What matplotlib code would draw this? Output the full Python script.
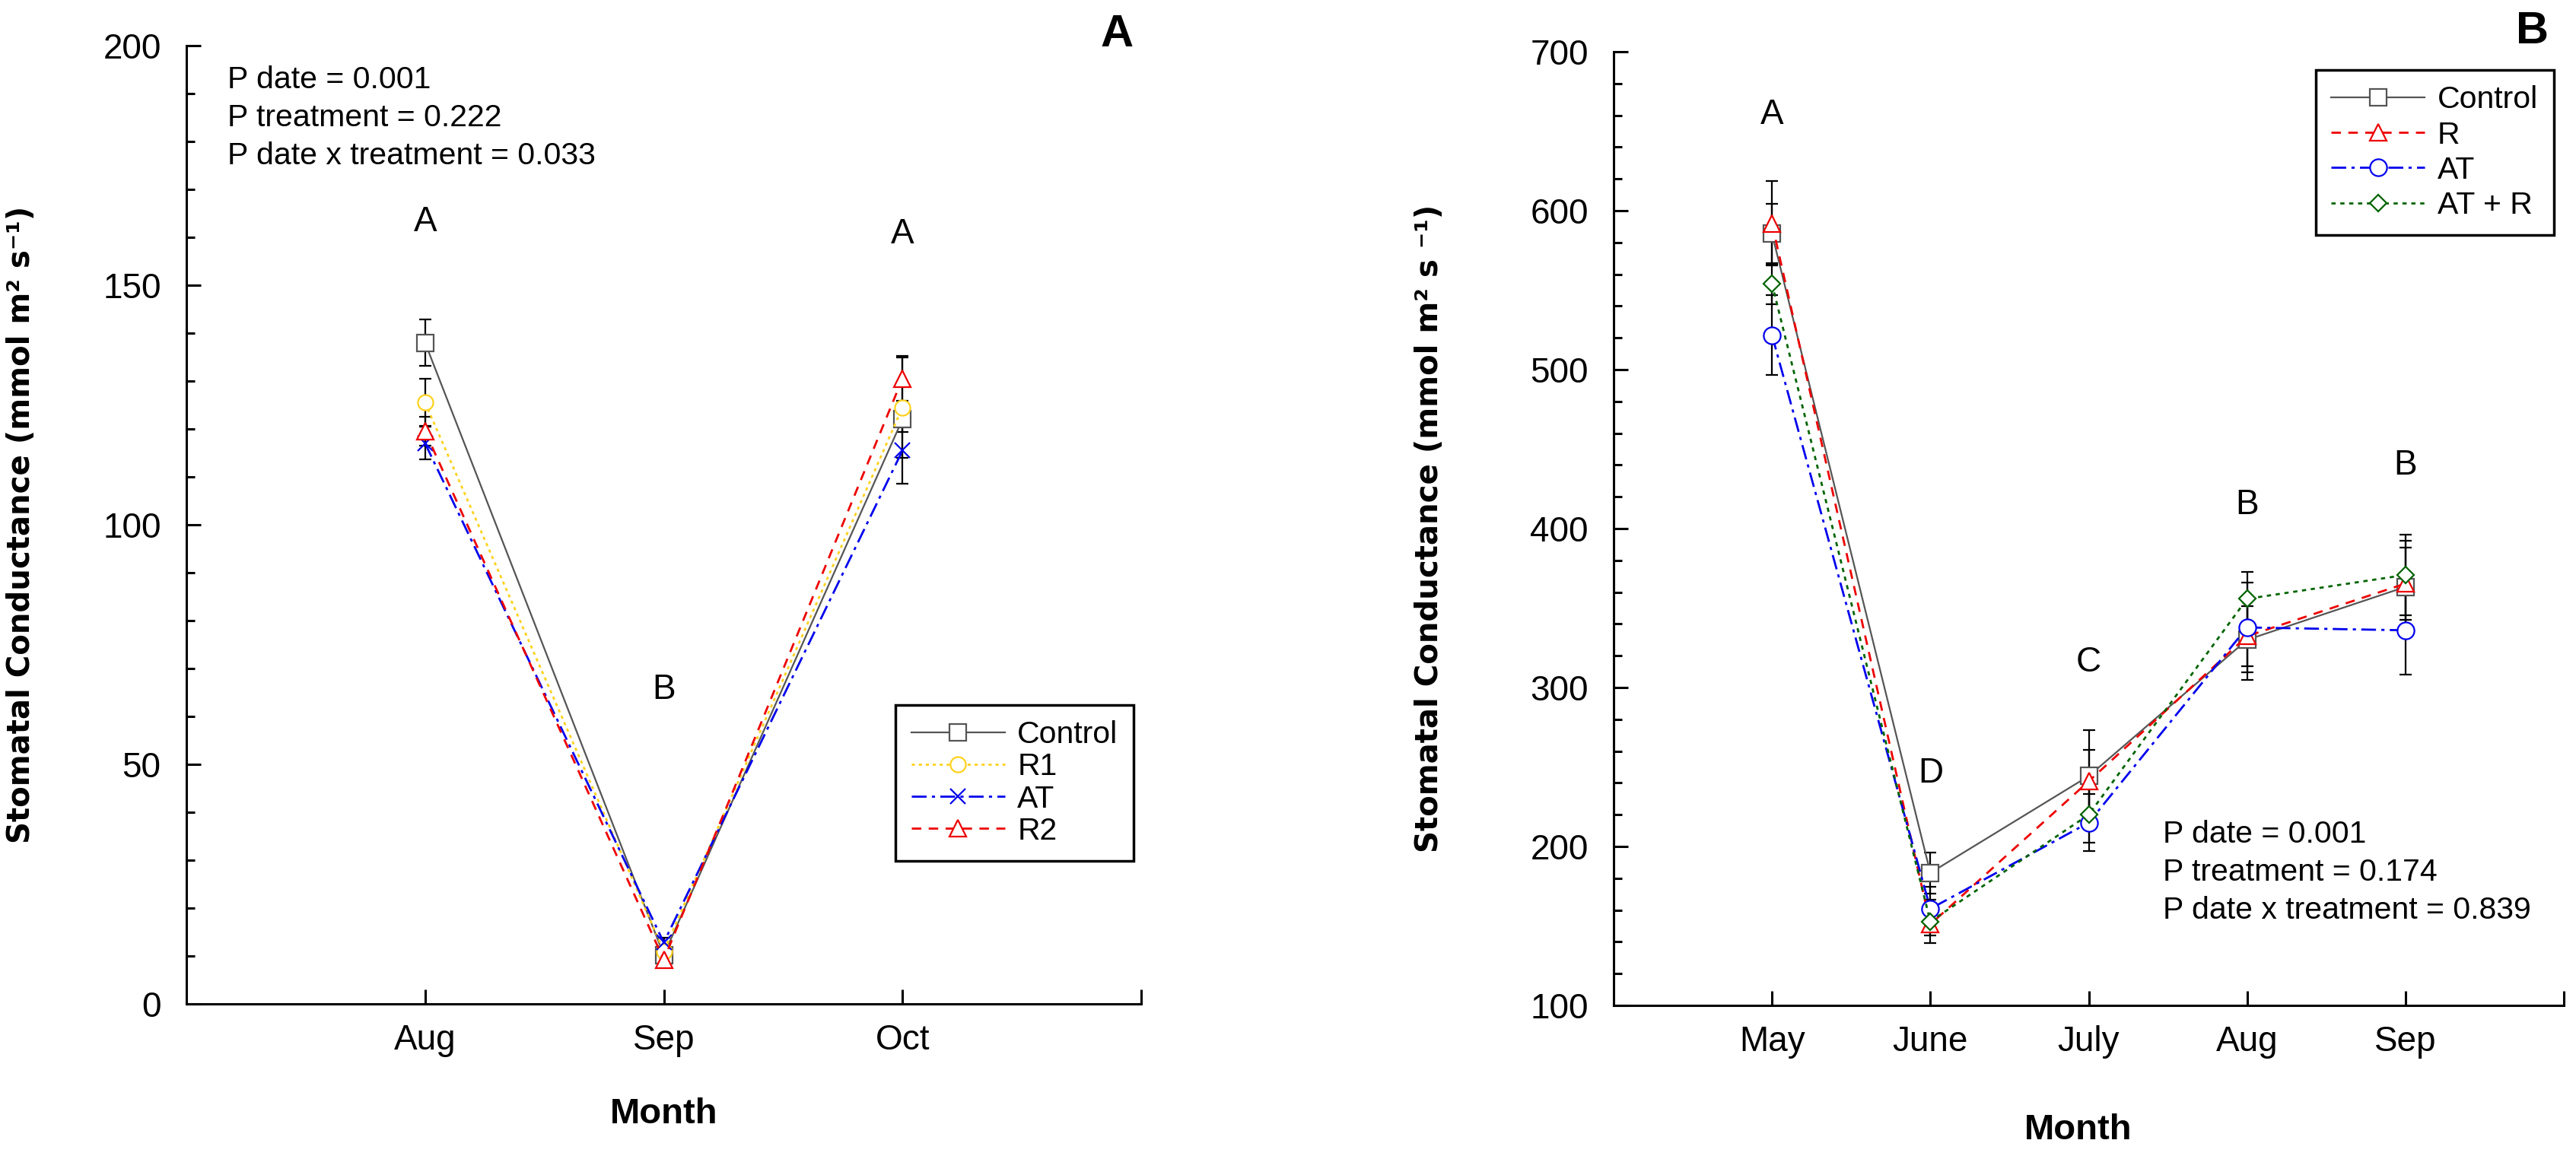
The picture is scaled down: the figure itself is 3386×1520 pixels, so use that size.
import matplotlib
matplotlib.use("Agg")
import matplotlib.pyplot as plt
from matplotlib.ticker import MultipleLocator

plt.rcParams['font.family'] = ['Liberation Sans', 'DejaVu Sans']

# ---- panel A data (Aug-Oct) ----
months_a = ["Aug", "Sep", "Oct"]
ctrl_a = [138.0, 10.2, 122.0]
ctrl_a_err = [4.8, 1.0, 2.6]
r1_a = [125.5, 11.0, 124.5]
r1_a_err = [4.9, 1.0, 10.5]
at_a = [117.0, 12.8, 115.5]
at_a_err = [3.4, 1.0, 7.0]
r2_a = [119.5, 9.2, 130.5]
r2_a_err = [3.0, 1.0, 4.7]
sig_a = ["A", "B", "A"]
sig_a_y = [161.2, 63.7, 158.7]
p_text_a = ["P date = 0.001", "P treatment = 0.222", "P date x treatment = 0.033"]

# ---- panel B data (May-Sep) ----
months_b = ["May", "June", "July", "Aug", "Sep"]
ctrl_b = [585.5, 183.4, 244.3, 330.0, 363.3]
ctrl_b_err = [19.0, 13.0, 29.0, 25.0, 29.0]
r_b = [592.0, 151.0, 241.0, 332.3, 365.4]
r_b_err = [26.5, 7.0, 20.0, 19.0, 22.6]
at_b = [521.7, 160.8, 215.0, 337.8, 336.0]
at_b_err = [25.0, 14.0, 18.0, 28.0, 28.0]
atr_b = [554.0, 152.8, 220.0, 355.8, 370.8]
atr_b_err = [13.0, 13.6, 17.6, 16.7, 25.5]
sig_b = ["A", "D", "C", "B", "B"]
sig_b_y = [654.5, 240.0, 310.0, 409.0, 434.0]
p_text_b = ["P date = 0.001", "P treatment = 0.174", "P date x treatment = 0.839"]

GRAY = "#555555"
YELLOW = "#FFD21E"
BLUE = "#0000EE"
RED = "#EE0000"
GREEN = "#006400"

TICK_FS = 33
TEXT_FS = 29.5


def draw_series(ax, x, y, err, color, ls, marker, ms, label, lw=2.0):
    ax.errorbar(x, y, yerr=err, fmt='none', ecolor='black', elinewidth=1.6,
                capsize=6, capthick=1.6, zorder=3)
    ax.plot(x, y, color=color, linestyle=ls, lw=lw, marker=marker, ms=ms,
            mfc='white', mec=color, mew=1.6, label=label, zorder=4)


def style_axes(ax, n, ymin, ymax, major, minor, labels):
    for side in ["top", "right"]:
        ax.spines[side].set_visible(False)
    for side in ["left", "bottom"]:
        ax.spines[side].set_linewidth(2.2)
    ax.set_xlim(0, n + 1)
    ax.set_ylim(ymin, ymax)
    ax.set_xticks(list(range(1, n + 2)))
    ax.set_xticklabels(labels + [""])
    ax.yaxis.set_major_locator(MultipleLocator(major))
    ax.yaxis.set_minor_locator(MultipleLocator(minor))
    ax.tick_params(axis='both', which='major', direction='in', length=14,
                   width=2.2, labelsize=TICK_FS)
    ax.tick_params(axis='y', which='minor', direction='in', length=8, width=2.2)
    ax.tick_params(axis='y', which='major', pad=24)
    ax.tick_params(axis='x', which='major', pad=19)


fig = plt.figure(figsize=(33.86, 15.2), dpi=100)
ax = fig.add_axes([245 / 3386, 200 / 1520, 1255 / 3386, 1260 / 1520])
ax2 = fig.add_axes([2121 / 3386, 198 / 1520, 1249 / 3386, 1254 / 1520])

# ---- panel A ----
xa = list(range(1, len(months_a) + 1))
draw_series(ax, xa, ctrl_a, ctrl_a_err, GRAY, '-', 's', 16, "Control", lw=1.6)
draw_series(ax, xa, r1_a, r1_a_err, YELLOW, (0, (1.5, 1.8)), 'o', 14.5, "R1")
draw_series(ax, xa, at_a, at_a_err, BLUE, (0, (7, 2.5, 1.5, 2.5)), 'x', 14, "AT")
draw_series(ax, xa, r2_a, r2_a_err, RED, (0, (4.5, 3.5)), '^', 16, "R2")
style_axes(ax, len(months_a), 0, 200, 50, 10, months_a)

for xi, s, yy in zip(xa, sig_a, sig_a_y):
    ax.text(xi, yy, s, ha='center', va='baseline', fontsize=TICK_FS)
for i, t in enumerate(p_text_a):
    ax.text(0.172, 191.1 - 7.9 * i, t, ha='left', va='baseline', fontsize=TEXT_FS)

ax.set_ylabel("Stomatal Conductance (mmol m² s⁻¹)", family='DejaVu Sans',
              fontweight='bold', fontsize=29)
ax.yaxis.set_label_coords(-0.157, 0.5)
ax.set_xlabel("Month", fontweight='bold', fontsize=34, va='center')
ax.xaxis.set_label_coords(0.5, -0.115)

leg = ax.legend(loc='upper left', bbox_to_anchor=(0.743, 0.312), borderaxespad=0,
                fancybox=False, edgecolor='black', framealpha=1, fontsize=TEXT_FS,
                handlelength=3.0, handletextpad=0.4, borderpad=0.5, labelspacing=0.1)
leg.get_frame().set_linewidth(2.5)

# ---- panel B ----
xb = list(range(1, len(months_b) + 1))
draw_series(ax2, xb, ctrl_b, ctrl_b_err, GRAY, '-', 's', 16, "Control", lw=1.6)
draw_series(ax2, xb, r_b, r_b_err, RED, (0, (4.5, 3.5)), '^', 16, "R")
draw_series(ax2, xb, at_b, at_b_err, BLUE, (0, (7, 2.5, 1.5, 2.5)), 'o', 16, "AT")
draw_series(ax2, xb, atr_b, atr_b_err, GREEN, (0, (2, 2.2)), 'D', 11.5, "AT + R")
style_axes(ax2, len(months_b), 100, 700, 100, 20, months_b)

for xi, s, yy in zip(xb, sig_b, sig_b_y):
    ax2.text(xi, yy, s, ha='center', va='baseline', fontsize=TICK_FS)
for i, t in enumerate(p_text_b):
    ax2.text(3.47, 202.4 - 24.0 * i, t, ha='left', va='baseline', fontsize=TEXT_FS)

ax2.set_ylabel("Stomatal Conductance (mmol m² s ⁻¹)", family='DejaVu Sans',
               fontweight='bold', fontsize=29)
ax2.yaxis.set_label_coords(-0.178, 0.5)
ax2.set_xlabel("Month", fontweight='bold', fontsize=34, va='center')
ax2.xaxis.set_label_coords(0.489, -0.131)

leg2 = ax2.legend(loc='upper left', bbox_to_anchor=(0.739, 0.981), borderaxespad=0,
                  fancybox=False, edgecolor='black', framealpha=1, fontsize=TEXT_FS,
                  handlelength=3.0, handletextpad=0.4, borderpad=0.5, labelspacing=0.2)
leg2.get_frame().set_linewidth(2.5)

# panel letters
fig.text(1490 / 3386, 1 - 61 / 1520, "A", ha='right', va='baseline',
         fontsize=43, fontweight='bold')
fig.text(3350 / 3386, 1 - 57 / 1520, "B", ha='right', va='baseline',
         fontsize=43, fontweight='bold')

fig.savefig("out.png", dpi=100, facecolor='white')
